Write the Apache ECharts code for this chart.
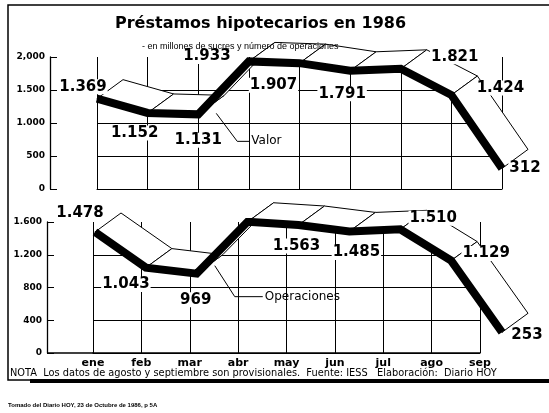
<!DOCTYPE html>
<html>
<head>
<meta charset="utf-8">
<script src="https://cdn.jsdelivr.net/npm/echarts@6/dist/echarts.min.js"></script>
<style>
html, body { margin: 0; padding: 0; background: #fff; }
#chart { width: 549px; height: 413px; }
</style>
</head>
<body>
<div id="chart"></div>
<script>
// datos
const meses = ['ene', 'feb', 'mar', 'abr', 'may', 'jun', 'jul', 'ago', 'sep']
const valor = [1369, 1152, 1131, 1933, 1907, 1791, 1821, 1424, 312]
const operaciones = [1478, 1043, 969, 1603, 1563, 1485, 1510, 1129, 253]
const valorTicks = ['0', '500', '1.000', '1.500', '2,000']
const operTicks = ['0', '400', '800', '1.200', '1.600']

// donde va cada etiqueta respecto a su punto
const valorLabelOff = [[-14, -12], [-13, 20], [0, 26], [-42, -5], [-26, 22], [-8, 23], [54, -12], [49, -7], [23, 0]]
const operLabelOff = [[-15, -19], [-20, 17], [-1, 26], [-30, -8], [-2, 21], [7, 21], [33, -11], [35, -7], [25, 3]]
const ribbonOff = [26, -19]

const fmt = v => v >= 1000 ? Math.floor(v / 1000) + '.' + String(v % 1000).padStart(3, '0') : String(v)

function pairs(arr) {
  const out = []
  for (let i = 0; i < arr.length - 1; i++) out.push([i, arr[i], i + 1, arr[i + 1]])
  return out
}

function renderRibbon(params, api) {
  const p0 = api.coord([api.value(0), api.value(1)])
  const p1 = api.coord([api.value(2), api.value(3)])
  const [dx, dy] = ribbonOff
  return {
    type: 'polygon',
    shape: { points: [p0, p1, [p1[0] + dx, p1[1] + dy], [p0[0] + dx, p0[1] + dy]] },
    style: { fill: '#fff', stroke: '#000', lineWidth: 1 }
  }
}

const labelStyle = {
  show: true,
  position: 'inside',
  color: '#000',
  fontFamily: 'DejaVu Sans',
  fontWeight: 'bold',
  fontSize: 15,
  backgroundColor: '#fff',
  padding: [0, 1],
  formatter: p => fmt(p.value)
}

function lineSeries(vals, offs, x, y) {
  return {
    type: 'line',
    xAxisIndex: x,
    yAxisIndex: y,
    z: 5,
    symbol: 'circle',
    symbolSize: 1,
    itemStyle: { color: '#000' },
    lineStyle: { color: '#000', width: 8, join: 'miter', cap: 'butt' },
    label: labelStyle,
    data: vals.map((v, i) => ({ value: v, label: { offset: offs[i] } }))
  }
}

const hideLast = ['#000', '#000', '#000', '#000', 'rgba(0,0,0,0)']
const tickLabel = { color: '#000', fontFamily: 'DejaVu Sans', fontWeight: 'bold', fontSize: 9, margin: 5 }

const option = {
  animation: false,
  backgroundColor: '#fff',
  title: [
    {
      text: 'Préstamos hipotecarios en 1986',
      left: 110,
      top: 11,
      textStyle: { fontFamily: 'DejaVu Sans', fontWeight: 'bold', fontSize: 16, color: '#000' }
    },
    {
      text: '- en millones de sucres y número de operaciones',
      left: 137,
      top: 37,
      textStyle: { fontFamily: 'Liberation Sans', fontWeight: 'normal', fontSize: 9, color: '#000' }
    }
  ],
  grid: [
    { left: 97, right: 47, top: 57, bottom: 224 },
    { left: 93, right: 69, top: 222, bottom: 60 },
    { left: 95, right: 47, top: 222, bottom: 60 }
  ],
  xAxis: [
    {
      gridIndex: 0, type: 'category', data: meses, boundaryGap: false,
      axisLine: { lineStyle: { color: '#000', width: 1 } },
      axisTick: { show: false }, axisLabel: { show: false },
      splitLine: { show: true, lineStyle: { color: '#000', width: 1 } }
    },
    {
      gridIndex: 1, type: 'category', data: meses, boundaryGap: false,
      axisLine: { lineStyle: { color: '#000', width: 1.5 } },
      axisTick: { show: false },
      axisLabel: { color: '#000', fontFamily: 'DejaVu Sans', fontWeight: 'bold', fontSize: 11, margin: 5 },
      splitLine: { show: true, lineStyle: { color: '#000', width: 1 } }
    },
    { gridIndex: 2, type: 'category', data: meses, boundaryGap: false, show: false }
  ],
  yAxis: [
    {
      gridIndex: 0, type: 'value', min: 0, max: 2000, interval: 500, offset: 47,
      axisLine: { show: true, lineStyle: { color: '#000', width: 1.3 } },
      axisTick: { show: true, inside: true, length: 7, lineStyle: { color: '#000' } },
      axisLabel: Object.assign({}, tickLabel, { formatter: v => valorTicks[Math.round(v / 500)] }),
      splitLine: { show: true, lineStyle: { color: hideLast, width: 1 } }
    },
    {
      gridIndex: 1, type: 'value', min: 0, max: 1600, interval: 400, offset: 46,
      axisLine: { show: true, lineStyle: { color: '#000', width: 1.3 } },
      axisTick: { show: true, inside: true, length: 7, lineStyle: { color: '#000' } },
      axisLabel: Object.assign({}, tickLabel, { formatter: v => operTicks[Math.round(v / 400)] }),
      splitLine: { show: true, lineStyle: { color: hideLast, width: 1 } }
    },
    { gridIndex: 2, type: 'value', min: 0, max: 1600, interval: 400, show: false }
  ],
  series: [
    {
      type: 'custom', xAxisIndex: 0, yAxisIndex: 0, z: 3,
      renderItem: renderRibbon, encode: { x: [0, 2], y: [1, 3] }, data: pairs(valor)
    },
    lineSeries(valor, valorLabelOff, 0, 0),
    {
      type: 'custom', xAxisIndex: 2, yAxisIndex: 2, z: 3,
      renderItem: renderRibbon, encode: { x: [0, 2], y: [1, 3] }, data: pairs(operaciones)
    },
    lineSeries(operaciones, operLabelOff, 2, 2)
  ]
}

const chart = echarts.init(document.getElementById('chart'))
chart.setOption(option)

// marco, notas y llamadas de las series
const mar1 = chart.convertToPixel({ xAxisIndex: 0, yAxisIndex: 0 }, [2, valor[2]])
const mar2 = chart.convertToPixel({ xAxisIndex: 2, yAxisIndex: 2 }, [2, operaciones[2]])
const base2 = chart.convertToPixel({ xAxisIndex: 1, yAxisIndex: 1 }, [0, 0])
const line = (pts, w) => ({ type: 'polyline', shape: { points: pts }, style: { stroke: '#000', lineWidth: w || 1, fill: null }, z: 10 })
const txt = (x, y, s, size, weight, font) => ({
  type: 'text', x: x, y: y, z: 10,
  style: { text: s, fill: '#000', font: (weight || 'normal') + ' ' + size + 'px "' + (font || 'Liberation Sans') + '"', textVerticalAlign: 'middle' }
})

chart.setOption({
  graphic: [
    { type: 'rect', shape: { x: 8, y: 5, width: 560, height: 375 }, style: { fill: null, stroke: '#000', lineWidth: 1.5 }, z: 10 },
    { type: 'rect', shape: { x: 30, y: 379, width: 530, height: 4 }, style: { fill: '#000' }, z: 10 },
    line([[base2[0] - 46, base2[1]], [base2[0], base2[1]]], 1.5),
    line([[mar1[0] + 18, mar1[1] - 1], [mar1[0] + 39, mar1[1] + 27], [mar1[0] + 51, mar1[1] + 27]]),
    txt(mar1[0] + 53, mar1[1] + 27, 'Valor', 12, 'normal', 'DejaVu Sans'),
    line([[mar2[0] + 18, mar2[1] - 8], [mar2[0] + 38, mar2[1] + 23], [mar2[0] + 66, mar2[1] + 23]]),
    txt(mar2[0] + 68, mar2[1] + 23, 'Operaciones', 12, 'normal', 'DejaVu Sans'),
    txt(10, 373, 'NOTA  Los datos de agosto y septiembre son provisionales.  Fuente: IESS   Elaboración:  Diario HOY', 9.8, 'normal', 'DejaVu Sans'),
    txt(8, 405, 'Tomado del Diario HOY, 23 de Octubre de 1986, p 5A', 6, 'bold')
  ]
})
</script>
</body>
</html>
